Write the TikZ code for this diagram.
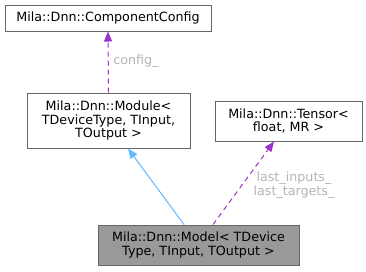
\documentclass[tikz,border=0pt]{standalone}
\usepackage{fontspec}
\setmainfont{DejaVu Sans}
\usetikzlibrary{arrows.meta,calc}
\definecolor{nodeedge}{HTML}{666666}
\definecolor{curfill}{HTML}{999999}
\definecolor{usecol}{HTML}{9A32CD}
\definecolor{inhcol}{HTML}{63B8FF}
\definecolor{lblcol}{HTML}{B4B4B4}
\begin{document}
\begin{tikzpicture}[x=1pt,y=1pt,
  cls/.style={draw=nodeedge,line width=1pt,fill=white,inner sep=0pt,
    align=center,font=\fontsize{12.7}{13.6}\selectfont,text=black},
  usage/.style={draw=usecol,line width=1pt,dash pattern=on 5pt off 4pt,
    -{Triangle[length=10pt,width=8pt]}},
  inherit/.style={draw=inhcol,line width=1pt,-{Triangle[length=10pt,width=8pt]}},
  lbl/.style={text=lblcol,align=center,font=\fontsize{12.7}{13.6}\selectfont}]
\useasboundingbox (0,0) rectangle (366,-271);

\node[cls,minimum width=206pt,minimum height=26pt] (cc) at (108,-18)
  {Mila::Dnn::ComponentConfig};
\node[cls,minimum width=163pt,minimum height=55pt] (mod) at (108.5,-120.5)
  {Mila::Dnn::Module<\\ TDeviceType, TInput,\\TOutput >};
\node[cls,minimum width=147pt,minimum height=40pt] (ten) at (288.5,-121)
  {Mila::Dnn::Tensor<\\float, MR >};
\node[cls,fill=curfill,minimum width=201pt,minimum height=40pt] (model) at (198.5,-245)
  {Mila::Dnn::Model< TDevice\\Type, TInput, TOutput >};

% member usage and inheritance edges
\draw[usage] (mod.north) -- (cc.south);
\draw[inherit] ($(model.north)+(-14.5,0)$) -- ($(mod.south)+(19.5,0)$);
\draw[usage] ($(model.north)+(14.5,0)$) -- ($(ten.south)+(-14.5,0)$);

\node[lbl] (lcfg) at (136,-61) {config\_};
\node[lbl] (lten) at (294,-185) {last\_inputs\_\\last\_targets\_};
\end{tikzpicture}
\end{document}
